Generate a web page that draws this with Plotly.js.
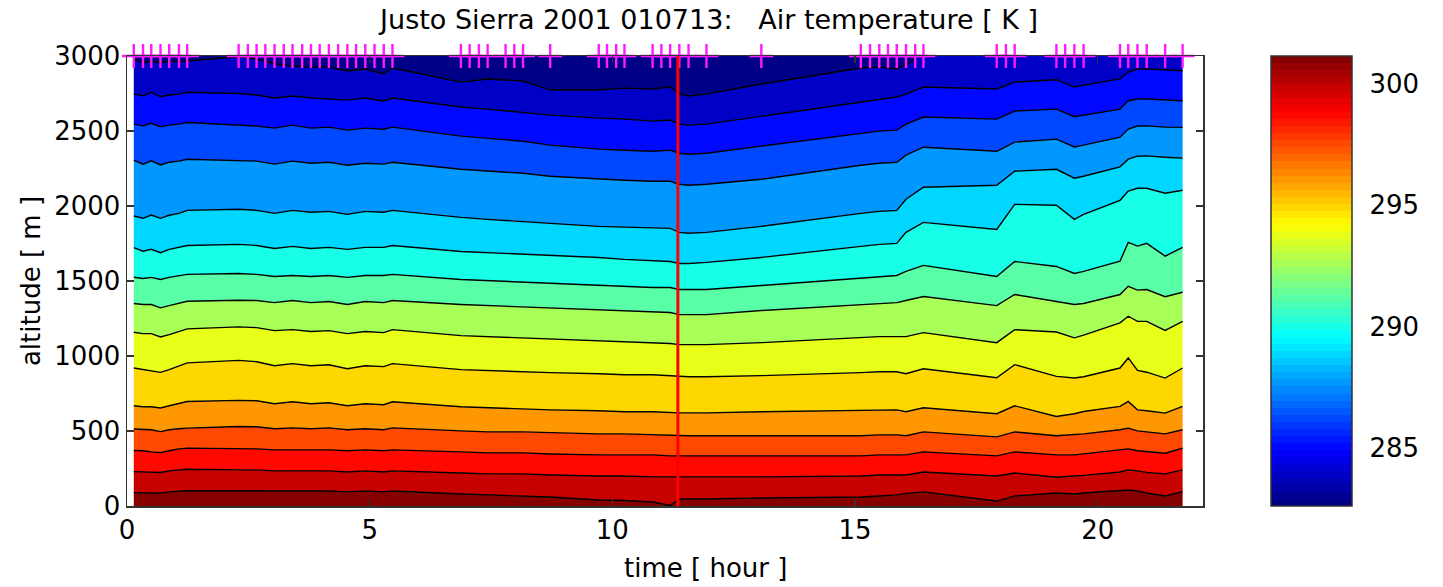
<!DOCTYPE html>
<html>
<head>
<meta charset="utf-8">
<script src="https://cdn.plot.ly/plotly-3.0.1.min.js"></script>
<style>
  html, body { margin: 0; padding: 0; background: #ffffff; }
  #chart { width: 1443px; height: 587px; }
</style>
</head>
<body>
<div id="chart"></div>
<script>
// Radiosonde launch times [hour]
const soundingHours = [0.14, 0.33, 0.50, 0.69, 0.87, 1.07, 1.24, 2.30, 2.49, 2.67, 2.85, 3.04, 3.23, 3.41,
  3.61, 3.79, 3.97, 4.16, 4.35, 4.54, 4.72, 4.91, 5.10, 5.29, 5.47, 6.88, 7.06, 7.25, 7.43, 7.80, 7.98,
  8.16, 8.72, 9.72, 9.89, 10.08, 10.25, 10.83, 11.01, 11.19, 11.38, 11.57, 11.94, 13.07, 15.12, 15.31,
  15.50, 15.68, 15.86, 16.05, 16.24, 16.41, 17.92, 18.11, 18.29, 19.15, 19.33, 19.52, 19.71, 20.46,
  20.63, 20.82, 21.01, 21.39, 21.75];

// Profile times used for the isotherm heights [hour]
const profileHours = [0.14, 0.33, 0.50, 0.69, 0.87, 1.07, 1.24, 2.30, 2.67, 3.04, 3.41, 3.79, 4.16, 4.54,
  4.91, 5.29, 5.47, 6.88, 7.43, 8.16, 8.72, 9.72, 10.25, 10.83, 11.19, 11.38, 11.57, 11.94, 13.07, 15.12,
  15.50, 15.86, 16.05, 16.41, 17.92, 18.29, 19.15, 19.52, 19.71, 20.46, 20.63, 20.82, 21.01, 21.39, 21.75];

// Isotherm temperatures [K], warmest (lowest) first
const isothermK = [300.53, 299.29, 298.06, 296.82, 295.58, 294.35, 293.11, 291.87, 290.64, 289.40,
  288.16, 286.93, 285.69, 284.45, 283.22];

// Isotherm altitudes [m] at each profile time
const iso1 = [89, 87, 87, 85, 94, 100, 102, 102, 100, 100, 100, 100, 100, 94, 100, 94, 100, 80, 74, 67,
  60, 40, 37, 27, 3, 47, 47, 47, 53, 60, 67, 74, 84, 94, 33, 67, 87, 80, 87, 107, 107, 100, 87, 67, 96];
const iso2 = [229, 227, 227, 223, 234, 241, 245, 241, 241, 234, 234, 234, 234, 227, 234, 227, 234, 220,
  214, 214, 207, 200, 200, 194, 194, 194, 194, 194, 194, 200, 207, 207, 207, 227, 200, 220, 192, 200,
  204, 227, 241, 234, 224, 214, 241];
const iso3 = [370, 368, 361, 356, 368, 381, 386, 386, 381, 374, 374, 374, 374, 368, 374, 368, 374, 361,
  354, 354, 347, 341, 341, 341, 334, 334, 334, 334, 334, 334, 341, 341, 341, 361, 334, 361, 341, 341,
  347, 374, 381, 368, 361, 352, 386];
const iso4 = [513, 508, 508, 496, 508, 515, 519, 530, 528, 515, 521, 515, 521, 508, 515, 508, 521, 501,
  494, 494, 488, 481, 481, 474, 474, 468, 468, 468, 468, 468, 474, 474, 468, 494, 461, 494, 468, 474,
  481, 508, 519, 501, 494, 481, 508];
const iso5 = [668, 662, 662, 653, 668, 682, 697, 704, 702, 682, 695, 682, 688, 668, 682, 675, 695, 662,
  655, 648, 641, 635, 628, 628, 621, 621, 621, 621, 628, 635, 641, 641, 628, 655, 615, 668, 597, 615,
  630, 664, 697, 641, 635, 619, 664];
const iso6 = [920, 909, 902, 891, 909, 935, 954, 971, 962, 935, 949, 935, 942, 915, 935, 929, 949, 909,
  902, 895, 889, 882, 875, 875, 869, 862, 862, 862, 869, 889, 895, 895, 882, 915, 855, 942, 864, 853,
  862, 920, 987, 904, 892, 853, 920];
const iso7 = [1158, 1149, 1149, 1127, 1143, 1163, 1181, 1194, 1189, 1169, 1176, 1163, 1169, 1149, 1163,
  1156, 1176, 1136, 1129, 1123, 1116, 1103, 1096, 1089, 1083, 1076, 1076, 1076, 1089, 1123, 1129, 1129,
  1129, 1156, 1089, 1176, 1160, 1121, 1139, 1221, 1265, 1231, 1231, 1171, 1231];
const iso8 = [1350, 1343, 1343, 1321, 1336, 1350, 1365, 1372, 1370, 1356, 1370, 1356, 1363, 1343, 1363,
  1356, 1370, 1343, 1336, 1330, 1323, 1310, 1303, 1296, 1290, 1276, 1276, 1276, 1303, 1343, 1350, 1356,
  1370, 1397, 1336, 1410, 1363, 1343, 1350, 1410, 1465, 1439, 1443, 1395, 1425];
const iso9 = [1525, 1517, 1524, 1510, 1524, 1537, 1544, 1550, 1544, 1530, 1537, 1530, 1537, 1524, 1537,
  1537, 1544, 1510, 1503, 1490, 1483, 1470, 1463, 1457, 1457, 1443, 1443, 1443, 1470, 1517, 1530, 1537,
  1564, 1604, 1530, 1630, 1597, 1550, 1564, 1632, 1757, 1733, 1751, 1666, 1724];
const iso10 = [1722, 1699, 1711, 1689, 1711, 1724, 1737, 1744, 1737, 1717, 1731, 1717, 1724, 1711, 1724,
  1724, 1737, 1697, 1690, 1677, 1670, 1657, 1644, 1637, 1630, 1617, 1617, 1624, 1657, 1731, 1744, 1751,
  1824, 1891, 1844, 2011, 2005, 1911, 1944, 2038, 2100, 2118, 2118, 2085, 2105];
const iso11 = [1933, 1918, 1940, 1918, 1938, 1951, 1971, 1978, 1971, 1951, 1971, 1958, 1964, 1944, 1964,
  1958, 1971, 1924, 1911, 1898, 1884, 1864, 1858, 1851, 1851, 1824, 1818, 1824, 1864, 1951, 1964, 1971,
  2045, 2125, 2138, 2232, 2245, 2185, 2198, 2261, 2312, 2332, 2334, 2325, 2319];
const iso12 = [2305, 2279, 2301, 2274, 2292, 2299, 2312, 2305, 2299, 2279, 2299, 2285, 2292, 2272, 2285,
  2279, 2292, 2245, 2232, 2218, 2198, 2178, 2172, 2165, 2165, 2145, 2138, 2145, 2178, 2272, 2285, 2292,
  2339, 2392, 2365, 2426, 2446, 2394, 2406, 2459, 2513, 2533, 2534, 2526, 2524];
const iso13 = [2546, 2534, 2551, 2528, 2539, 2546, 2557, 2539, 2533, 2519, 2539, 2519, 2526, 2506, 2519,
  2512, 2526, 2466, 2452, 2432, 2406, 2379, 2372, 2365, 2372, 2352, 2345, 2352, 2399, 2486, 2499, 2506,
  2546, 2593, 2579, 2633, 2646, 2595, 2606, 2646, 2702, 2713, 2713, 2706, 2702];
const iso14 = [2746, 2735, 2758, 2728, 2740, 2746, 2758, 2750, 2740, 2720, 2733, 2720, 2713, 2706, 2720,
  2700, 2720, 2660, 2646, 2626, 2606, 2586, 2579, 2566, 2573, 2546, 2539, 2546, 2599, 2693, 2713, 2727,
  2746, 2793, 2780, 2826, 2842, 2793, 2806, 2847, 2893, 2913, 2913, 2907, 2902];
const iso15 = [2980, 2953, 2967, 2953, 2967, 2960, 2967, 2995, 2980, 2947, 2933, 2927, 2927, 2900, 2913,
  2880, 2920, 2826, 2847, 2833, 2773, 2773, 2786, 2780, 2793, 2746, 2733, 2746, 2813, 2920, 2927, 2913,
  2940, 3014, 3050, 3050, 3050, 3050, 3050, 3050, 3050, 3050, 3050, 3050, 3050];

// Temperature range of the colour scale [K]
const colorLimitsK = [282.6, 301.15];
// Top of the sounding profiles [m]
const topAltitude = 3000;
// Time marked with the vertical red line [hour]
const markHour = 11.35;

const isotherms = [iso1, iso2, iso3, iso4, iso5, iso6, iso7, iso8, iso9, iso10, iso11, iso12, iso13, iso14, iso15];

// MATLAB-style jet colormap, 64 steps
function jetRGB(x) {
  const c = v => Math.max(0, Math.min(1, v));
  const r = c(Math.min(4 * x - 1.5, -4 * x + 4.5));
  const g = c(Math.min(4 * x - 0.5, -4 * x + 3.5));
  const b = c(Math.min(4 * x + 0.5, -4 * x + 2.5));
  return 'rgb(' + Math.round(r * 255) + ',' + Math.round(g * 255) + ',' + Math.round(b * 255) + ')';
}
const NSTEP = 64;
const jetSteps = [];
for (let i = 0; i < NSTEP; i++) jetSteps.push(jetRGB((i + 0.5) / NSTEP));
const jetScale = [];
jetSteps.forEach((col, i) => { jetScale.push([i / NSTEP, col]); jetScale.push([(i + 1) / NSTEP, col]); });

function colorForK(t) {
  const f = (t - colorLimitsK[0]) / (colorLimitsK[1] - colorLimitsK[0]);
  const idx = Math.max(0, Math.min(NSTEP - 1, Math.floor(f * NSTEP)));
  return jetSteps[idx];
}

const traces = [];
const n = isothermK.length;
for (let k = 0; k < n; k++) {
  // band below this isotherm: between isotherm k-1 and k (or the ground)
  let midK;
  if (k === 0) midK = isothermK[0] + (isothermK[0] - isothermK[1]) / 2;
  else midK = (isothermK[k - 1] + isothermK[k]) / 2;
  traces.push({
    type: 'scatter', mode: 'lines', x: profileHours, y: isotherms[k],
    fill: k === 0 ? 'tozeroy' : 'tonexty', fillcolor: colorForK(midK),
    line: { color: '#000000', width: 1.4 }, hoverinfo: 'skip'
  });
}
// coldest band, from the last isotherm to the top of the profiles
const coldMid = isothermK[n - 1] - (isothermK[n - 2] - isothermK[n - 1]) / 2;
traces.push({
  type: 'scatter', mode: 'lines', x: profileHours, y: profileHours.map(() => topAltitude),
  fill: 'tonexty', fillcolor: colorForK(coldMid), line: { width: 0 }, hoverinfo: 'skip'
});

const textFont = { family: 'DejaVu Sans, sans-serif', size: 26, color: '#000000' };

// colour bar
traces.push({
  type: 'scatter', mode: 'markers', x: [null], y: [null], hoverinfo: 'skip',
  marker: {
    color: [colorLimitsK[0]], cmin: colorLimitsK[0], cmax: colorLimitsK[1],
    colorscale: jetScale, showscale: true,
    colorbar: {
      x: 1.0632, xanchor: 'left', xref: 'paper', xpad: 0,
      y: 0.5, yanchor: 'middle', len: 1, lenmode: 'fraction', ypad: 0,
      thickness: 81, thicknessmode: 'pixels',
      outlinewidth: 1.5, outlinecolor: '#333333',
      tickvals: [285, 290, 295, 300], ticks: 'outside', ticklen: 12, tickwidth: 1,
      tickcolor: 'rgba(0,0,0,0)',
      tickfont: textFont
    }
  }
});

// launch times along the top
traces.push({
  type: 'scatter', mode: 'markers', x: soundingHours, y: soundingHours.map(() => topAltitude),
  cliponaxis: false, hoverinfo: 'skip',
  marker: { symbol: 'cross-thin', size: 17, line: { color: '#ff1aff', width: 2.4 } }
});

const axisCommon = {
  ticks: 'inside', ticklen: 7, tickwidth: 1.5, tickcolor: '#333333',
  showline: true, linecolor: '#333333', linewidth: 1.5, mirror: 'allticks',
  showgrid: false, zeroline: false, tickfont: textFont
};

// short inner ticks on the left edge of the colour bar
const barTickShapes = [285, 290, 295, 300].map(v => ({
  type: 'line', xref: 'paper', yref: 'paper',
  x0: 1.0632 + 1 / 1076, x1: 1.0632 + 6 / 1076,
  y0: (v - colorLimitsK[0]) / (colorLimitsK[1] - colorLimitsK[0]),
  y1: (v - colorLimitsK[0]) / (colorLimitsK[1] - colorLimitsK[0]),
  line: { color: '#222222', width: 1.5 }
}));

const layout = {
  width: 1443, height: 587,
  margin: { l: 127, r: 240, t: 56, b: 81 },
  paper_bgcolor: '#ffffff', plot_bgcolor: '#ffffff',
  showlegend: false,
  font: textFont,
  title: {
    text: 'Justo Sierra 2001 010713:\u00a0\u00a0\u00a0Air temperature [ K ]',
    font: { family: 'DejaVu Sans, sans-serif', size: 27, color: '#000000' },
    x: 0.541, xref: 'paper', xanchor: 'center',
    y: 1 - 20 / 587, yref: 'container', yanchor: 'middle'
  },
  xaxis: Object.assign({}, axisCommon, {
    range: [0, 22.17], tickvals: [0, 5, 10, 15, 20]
  }),
  yaxis: Object.assign({}, axisCommon, {
    range: [0, topAltitude], tickvals: [0, 500, 1000, 1500, 2000, 2500, 3000],
    title: { text: 'altitude [ m ]', font: textFont, standoff: 6 }
  }),
  annotations: [{
    text: 'time [ hour ]', xref: 'paper', yref: 'paper', x: 0.538, y: -0.138,
    xanchor: 'center', yanchor: 'middle', showarrow: false, font: textFont
  }],
  shapes: [{
    type: 'line', xref: 'x', yref: 'y', x0: markHour, x1: markHour, y0: 0, y1: topAltitude,
    line: { color: '#ff0000', width: 3 }
  }].concat(barTickShapes)
};

Plotly.newPlot('chart', traces, layout, { displayModeBar: false, staticPlot: true });
</script>
</body>
</html>
